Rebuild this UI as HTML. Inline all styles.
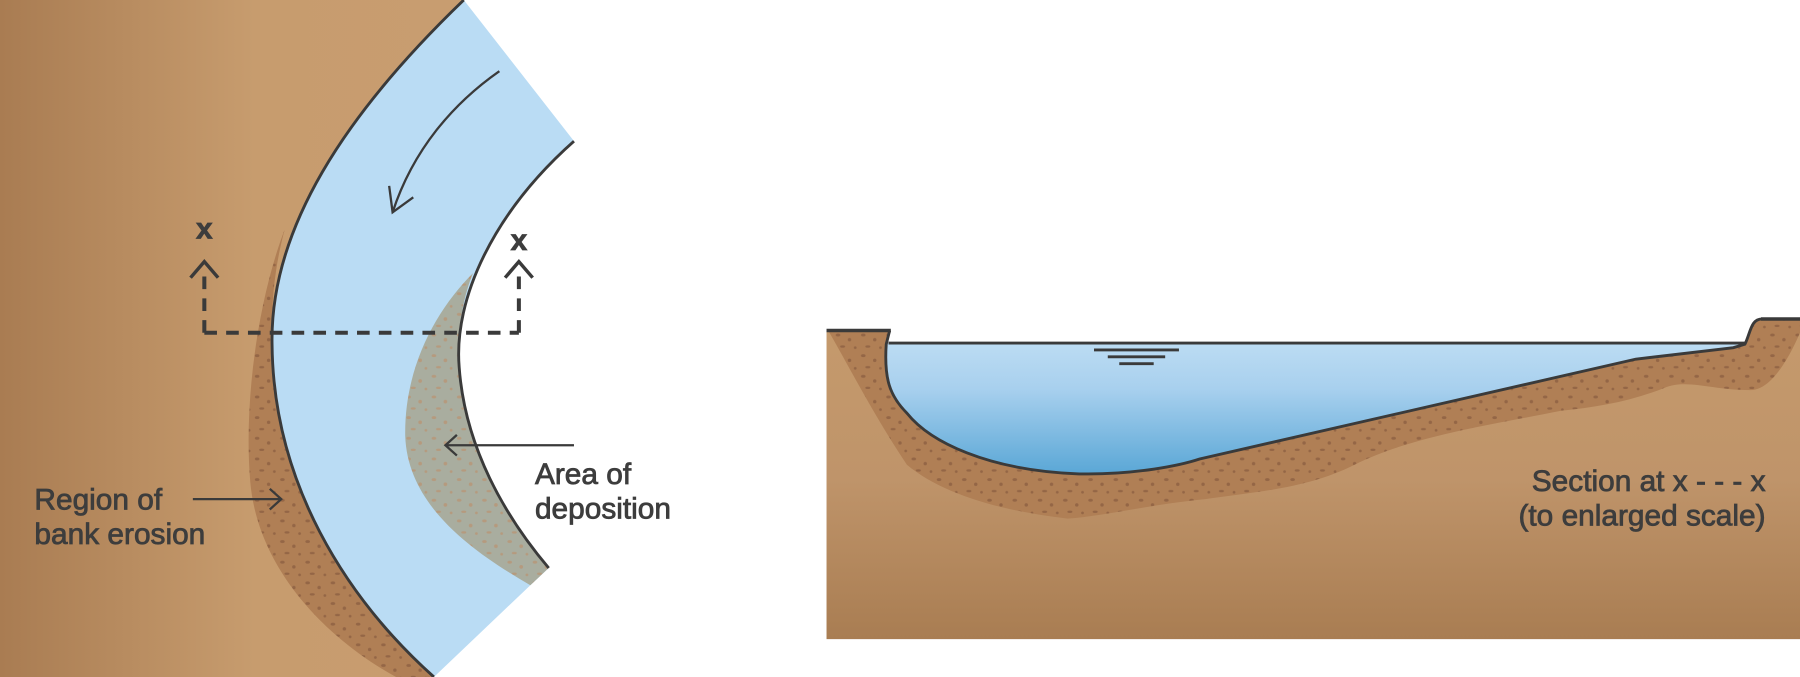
<!DOCTYPE html>
<html><head><meta charset="utf-8"><style>
html,body{margin:0;padding:0;background:#fff;}
svg{display:block;}
text{font-family:"Liberation Sans",sans-serif;fill:#3d3d3d;font-size:26px;stroke:#3d3d3d;stroke-width:0.7px;}
</style></head><body>
<svg width="1800" height="677" viewBox="0 0 1568 590" preserveAspectRatio="none" xmlns="http://www.w3.org/2000/svg">
<defs>
<linearGradient id="gl" x1="0" x2="1" y1="0" y2="0"><stop offset="0" stop-color="#a97c52"/><stop offset="0.55" stop-color="#c79c6e"/><stop offset="1" stop-color="#c89d70"/></linearGradient>
<linearGradient id="gr" x1="0" x2="0" y1="0" y2="1"><stop offset="0" stop-color="#c59a6c"/><stop offset="0.5" stop-color="#bf946a"/><stop offset="1" stop-color="#a97d52"/></linearGradient>
<linearGradient id="gw" x1="0" x2="0" y1="0" y2="1"><stop offset="0" stop-color="#bcdcf3"/><stop offset="0.35" stop-color="#a8d0ee"/><stop offset="1" stop-color="#5aa7d6"/></linearGradient>
<pattern id="dots" width="22" height="18" patternUnits="userSpaceOnUse">
<rect width="22" height="18" fill="#b07f55"/>
<ellipse cx="4" cy="4" rx="2" ry="1.3" fill="#946646"/><ellipse cx="14" cy="8" rx="1.5" ry="1.5" fill="#946646"/><ellipse cx="8" cy="14" rx="2.2" ry="1" fill="#946646"/><ellipse cx="19" cy="15" rx="1.2" ry="1.2" fill="#946646"/>
</pattern>
<pattern id="gdots" width="22" height="18" patternUnits="userSpaceOnUse">
<rect width="22" height="18" fill="#a9ad9f"/>
<ellipse cx="4" cy="4" rx="2" ry="1.3" fill="#b59a7e"/><ellipse cx="14" cy="8" rx="1.6" ry="1.6" fill="#b59a7e"/><ellipse cx="8" cy="14" rx="2.2" ry="1" fill="#b59a7e"/><ellipse cx="19" cy="15" rx="1.2" ry="1.2" fill="#b59a7e"/>
</pattern>
</defs>
<rect width="1568" height="590" fill="#fff"/>
<path d="M0,0 L404,0 C300,100 235,200 237,300 C238,420 300,520 378,590 L0,590 Z" fill="url(#gl)"/>
<path d="M248,200 C225,260 212,350 218,420 C225,500 290,560 345,590 L378,590 C300,520 238,420 237,300 C236,260 240,230 248,200 Z" fill="url(#dots)"/>
<path d="M404,0 L500,123 C430,185 395,260 400,320 C405,390 440,450 478,495 L462,510 L378,590 C300,520 238,420 237,300 C235,200 300,100 404,0 Z" fill="#badcf4"/>
<path d="M412,238 C380,270 352,320 353,380 C355,440 410,480 462,510 L478,495 C440,450 405,390 400,320 C398,290 403,260 412,238 Z" fill="url(#gdots)"/>
<path d="M404,0 C300,100 235,200 237,300 C238,420 300,520 378,590" fill="none" stroke="#3a3a3a" stroke-width="2.5"/>
<path d="M500,123 C430,185 395,260 400,320 C405,390 440,450 478,495" fill="none" stroke="#3a3a3a" stroke-width="2.5"/>
<g fill="none" stroke="#3a3a3a" stroke-width="2">
<path d="M435,62 C395,90 360,130 342,185"/><path d="M339,162 L342,185 L360,172"/>
</g>
<g fill="none" stroke="#3a3a3a" stroke-width="3.5" stroke-dasharray="11,8">
<path d="M178,290 L452,290"/><path d="M178,290 L178,236"/><path d="M452,290 L452,236"/>
</g>
<g fill="none" stroke="#3a3a3a" stroke-width="3">
<path d="M166,242 L178,228 L190,242"/>
<path d="M440,242 L452,228 L464,242"/>
</g>
<text x="178" y="208" text-anchor="middle" font-weight="bold">x</text>
<text x="452" y="218" text-anchor="middle" font-weight="bold">x</text>
<g fill="none" stroke="#3a3a3a" stroke-width="2"><path d="M500,388 L388,388"/><path d="M398,379 L388,388 L398,397"/></g>
<text x="466" y="422">Area of</text>
<text x="466" y="452">deposition</text>
<g fill="none" stroke="#3a3a3a" stroke-width="2"><path d="M168,435 L245,435"/><path d="M235,426 L245,435 L235,444"/></g>
<text x="30" y="444">Region of</text>
<text x="30" y="474">bank erosion</text>
<path d="M720,288 L775,288 L772,300 C770,330 775,345 790,360 C810,385 860,410 940,413 C990,414 1030,405 1045,400 L1425,313 L1510,303 L1520,300 C1525,290 1525,278 1535,278 L1568,278 L1568,557 L720,557 Z" fill="url(#gr)"/>
<path d="M722,289 L775,289 L772,300 C770,330 775,345 790,360 C810,385 860,410 940,413 C990,414 1030,405 1045,400 L1425,313 L1510,303 L1520,300 C1525,290 1525,279 1535,279 L1568,279 L1568,290 C1555,320 1540,340 1525,340 C1490,340 1470,330 1450,338 C1420,350 1390,355 1360,358 C1300,370 1230,380 1180,405 C1140,425 1100,428 1050,435 C1000,440 960,450 930,452 C870,445 820,430 790,405 C760,360 740,320 722,289 Z" fill="url(#dots)"/>
<path d="M773,299 L1520,299 L1510,303 L1425,313 L1045,400 C1030,405 990,414 940,413 C860,410 810,385 790,360 C775,345 770,330 772,300 Z" fill="url(#gw)"/>
<path d="M775,288 L772,300 C770,330 775,345 790,360 C810,385 860,410 940,413 C990,414 1030,405 1045,400 L1425,313 L1510,303 L1520,300 C1525,290 1525,278 1535,278" fill="none" stroke="#3a3a3a" stroke-width="2.5"/>
<path d="M774,299 L1520,299" stroke="#3a3a3a" stroke-width="2.5"/>
<path d="M720,288 L776,288" stroke="#3a3a3a" stroke-width="3"/>
<path d="M1534,278 L1568,278" stroke="#3a3a3a" stroke-width="3"/>
<g stroke="#3a3a3a" stroke-width="2.5"><path d="M953,305 L1027,305"/><path d="M965,311 L1015,311"/><path d="M975,317 L1005,317"/></g>
<text x="1538" y="428" text-anchor="end">Section at x - - - x</text>
<text x="1538" y="458" text-anchor="end">(to enlarged scale)</text>
</svg>
</body></html>
